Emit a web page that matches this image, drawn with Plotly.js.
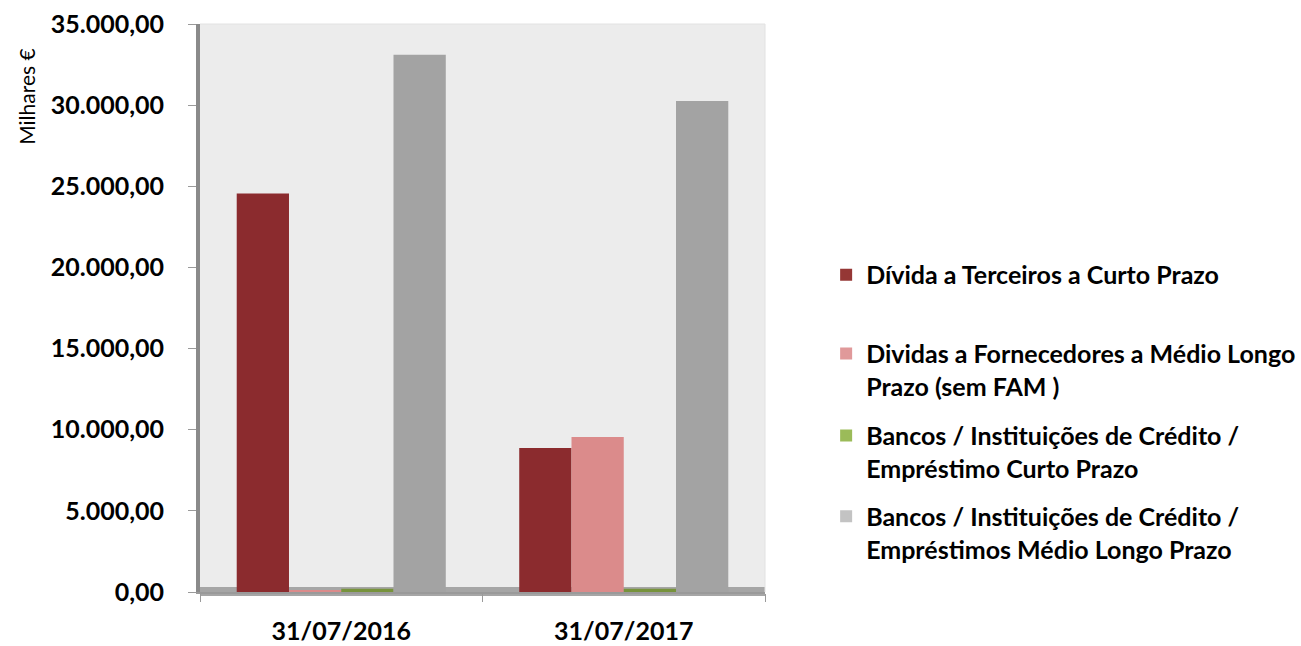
<!DOCTYPE html>
<html>
<head>
<meta charset="utf-8">
<script src="https://cdn.plot.ly/plotly-3.0.1.min.js"></script>
<style>html,body{margin:0;padding:0;background:#fff;}#chart{width:1301px;height:646px;}</style>
</head>
<body>
<div id="chart"></div>
<script>
const categories = ['31/07/2016', '31/07/2017'];
const seriesNames = [
  'Dívida a Terceiros a Curto Prazo',
  'Dividas a Fornecedores a Médio Longo<br>Prazo (sem FAM )',
  'Bancos / Instituições de Crédito /<br>Empréstimo Curto Prazo',
  'Bancos / Instituições de Crédito /<br>Empréstimos Médio Longo Prazo'
];
const dividaTerceirosCP = [24550, 8870];
const dividaFornecedoresMLP = [120, 9550];
const bancosCP = [200, 200];
const bancosMLP = [33100, 30250];
const yTicks = [0, 5000, 10000, 15000, 20000, 25000, 30000, 35000];

const barColors = ['#8b2b2e', '#db8b8b', '#77933c', '#a3a3a3'];
const legendColors = ['#953735', '#e0999a', '#9bbb59', '#c3c3c3'];
const values = [dividaTerceirosCP, dividaFornecedoresMLP, bancosCP, bancosMLP];
const legendIds = ['legend', 'legend2', 'legend3', 'legend4'];
const legendY = [0.610, 0.488, 0.361, 0.236];

const font = 'Lato, "Liberation Sans", sans-serif';

const traces = values.map((v, i) => ({
  type: 'bar',
  name: seriesNames[i],
  x: categories,
  y: v,
  marker: {color: barColors[i], line: {width: 0}},
  legend: legendIds[i],
  showlegend: false,
  hoverinfo: 'x+y+name'
}));
// legend-only swatches (lighter legend colours), on a hidden axis pair so they do not take bar slots
values.forEach((v, i) => {
  traces.push({
    type: 'bar',
    name: seriesNames[i],
    x: [null], y: [null],
    xaxis: 'x2', yaxis: 'y2',
    marker: {color: legendColors[i]},
    legend: legendIds[i],
    showlegend: true,
    hoverinfo: 'skip'
  });
});

const layout = {
  width: 1301, height: 646,
  margin: {l: 200, r: 536, t: 24, b: 54, autoexpand: false},
  paper_bgcolor: '#ffffff',
  plot_bgcolor: '#ececec',
  barmode: 'group',
  bargap: 0.26,
  bargroupgap: 0,
  separators: ',.',
  font: {family: font, color: '#000'},
  xaxis: {
    type: 'category',
    showgrid: false,
    showline: true, linecolor: '#9a9a9a', linewidth: 2,
    ticks: 'outside', tickson: 'boundaries', ticklen: 8, tickcolor: '#9a9a9a',
    tickfont: {family: font, size: 25, color: '#000', weight: 'bold'},
    ticklabelstandoff: 16,
    automargin: false,
    fixedrange: true
  },
  yaxis: {
    range: [0, 35000],
    tickvals: yTicks,
    tickformat: ',.2f',
    showgrid: false, zeroline: false,
    showline: true, linecolor: '#8a8a8a', linewidth: 4,
    ticks: 'outside', ticklen: 8, tickcolor: '#9a9a9a',
    tickfont: {family: font, size: 25, color: '#000', weight: 'bold'},
    ticklabelstandoff: 19,
    automargin: false,
    fixedrange: true
  },
  xaxis2: {overlaying: 'x', visible: false, fixedrange: true},
  yaxis2: {overlaying: 'y', visible: false, fixedrange: true},
  shapes: [
    {type: 'rect', xref: 'paper', yref: 'paper', x0: 0, x1: 1, y0: -0.007, y1: 0.009,
     fillcolor: '#a6a6a6', line: {width: 0}, layer: 'below'},
    {type: 'line', xref: 'paper', yref: 'paper', x0: 0, x1: 1, y0: 1, y1: 1,
     line: {color: '#e2e2e2', width: 1}, layer: 'below'},
    {type: 'line', xref: 'paper', yref: 'paper', x0: 1, x1: 1, y0: 0, y1: 1,
     line: {color: '#e2e2e2', width: 1}, layer: 'below'}
  ],
  annotations: [{
    text: 'Milhares €', xref: 'paper', yref: 'paper',
    x: -0.307, y: 0.871, textangle: -90, showarrow: false,
    xanchor: 'center', yanchor: 'middle',
    font: {family: font, size: 21, color: '#000'}
  }]
};

legendIds.forEach((id, i) => {
  layout[id] = {
    xref: 'container', yref: 'container',
    x: 0.635, y: legendY[i], xanchor: 'left', yanchor: 'top',
    bgcolor: 'rgba(0,0,0,0)', borderwidth: 0,
    valign: 'top',
    itemwidth: 30,
    font: {family: font, size: 25, color: '#000', weight: 'bold'}
  };
});

Plotly.newPlot('chart', traces, layout, {displayModeBar: false});
</script>
</body>
</html>
